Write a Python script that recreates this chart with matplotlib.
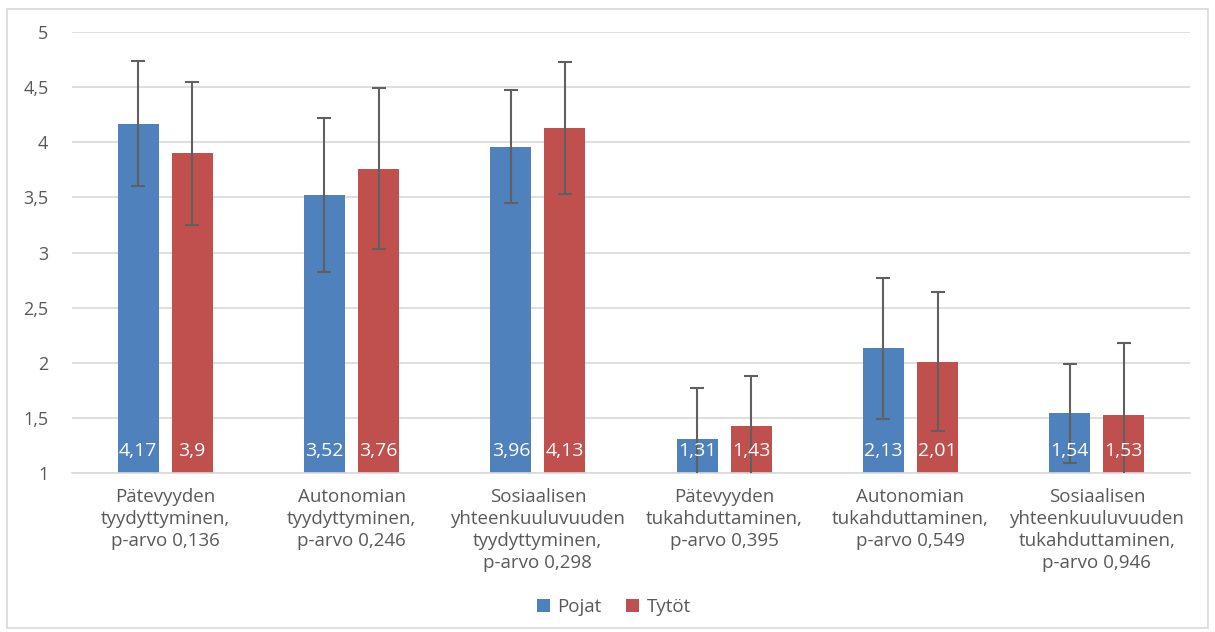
import matplotlib.pyplot as plt
from matplotlib.patches import Rectangle
import numpy as np

plt.rcParams['font.family'] = ['Open Sans', 'DejaVu Sans']

categories = ['Pätevyyden\ntyydyttyminen,\np-arvo 0,136',
              'Autonomian\ntyydyttyminen,\np-arvo 0,246',
              'Sosiaalisen\nyhteenkuuluvuuden\ntyydyttyminen,\np-arvo 0,298',
              'Pätevyyden\ntukahduttaminen,\np-arvo 0,395',
              'Autonomian\ntukahduttaminen,\np-arvo 0,549',
              'Sosiaalisen\nyhteenkuuluvuuden\ntukahduttaminen,\np-arvo 0,946']
pojat = [4.17, 3.52, 3.96, 1.31, 2.13, 1.54]
tytot = [3.9, 3.76, 4.13, 1.43, 2.01, 1.53]
pojat_sd = [0.57, 0.70, 0.51, 0.46, 0.64, 0.45]
tytot_sd = [0.65, 0.73, 0.60, 0.45, 0.63, 0.65]

blue = '#4f81bd'
red = '#c0504d'
grid = '#d9d9d9'
text_col = '#595959'

fig = plt.figure(figsize=(12.15, 6.32), dpi=100)
ax = fig.add_axes([72 / 1215, 1 - 473 / 632, 1118 / 1215, 441 / 632])

# chart border
fig.patches.append(Rectangle((7 / 1215, 4 / 632), 1201 / 1215, 619 / 632,
                             transform=fig.transFigure, fill=False,
                             edgecolor=grid, linewidth=1.2))

x = np.arange(len(categories))
w = 0.22
off = 0.145
ax.bar(x - off, pojat, w, bottom=0, color=blue, label='Pojat', zorder=2)
ax.bar(x + off, tytot, w, bottom=0, color=red, label='Tytöt', zorder=2)
ax.errorbar(x - off, pojat, yerr=pojat_sd, fmt='none', ecolor='#606060',
            elinewidth=1.5, capsize=5, capthick=1.5, zorder=3)
ax.errorbar(x + off, tytot, yerr=tytot_sd, fmt='none', ecolor='#606060',
            elinewidth=1.5, capsize=5, capthick=1.5, zorder=3)

for xi, v in zip(x - off, pojat):
    ax.text(xi, 1.2, str(v).replace('.', ','), color='white', ha='center',
            va='center', fontsize=14, zorder=4)
for xi, v in zip(x + off, tytot):
    ax.text(xi, 1.2, str(v).replace('.', ','), color='white', ha='center',
            va='center', fontsize=14, zorder=4)

ax.set_xlim(-0.5, len(categories) - 0.5)
ax.set_ylim(1, 5)
ax.set_yticks(np.arange(1, 5.01, 0.5))
ax.set_yticklabels(['1', '1,5', '2', '2,5', '3', '3,5', '4', '4,5', '5'])
ax.set_xticks(x)
ax.set_xticklabels(categories, fontsize=13.5, color=text_col, linespacing=1.27, va='top')
ax.tick_params(axis='y', length=0, pad=17, labelsize=13, labelcolor=text_col)
ax.tick_params(axis='x', length=0, pad=11)
ax.yaxis.grid(True, color=grid, linewidth=1.2, zorder=0)
ax.set_axisbelow(True)
for s in ['top', 'right', 'left']:
    ax.spines[s].set_visible(False)
ax.spines['bottom'].set_color(grid)
ax.spines['bottom'].set_linewidth(1.2)

fig.legend(loc='center', bbox_to_anchor=(614 / 1215, 1 - 607 / 632), ncol=2,
           frameon=False, fontsize=13.5, handlelength=0.7, handleheight=0.7,
           handletextpad=0.4, columnspacing=1.3, labelcolor=text_col)

fig.savefig('out.png', dpi=100)
